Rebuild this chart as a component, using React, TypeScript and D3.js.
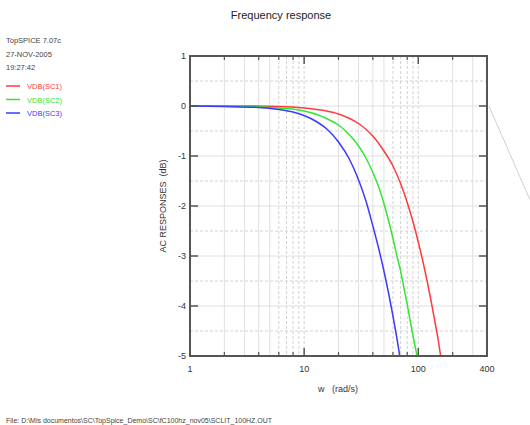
import * as React from "react";
import * as d3 from "d3";

// frequency (rad/s) and dB values
const wSC1 = [1, 3, 6, 10, 15, 20, 25, 30, 40, 50, 60, 70, 80, 90, 100, 110, 120, 130, 140, 150, 158];
const dbSC1 = [0, 0, -0.01, -0.04, -0.09, -0.16, -0.25, -0.35, -0.6, -0.9, -1.2, -1.55, -1.93, -2.32, -2.72, -3.12, -3.52, -3.92, -4.32, -4.7, -5.05];
const wSC2 = [1, 3, 6, 10, 13, 16, 20, 25, 30, 35, 40, 45, 50, 55, 60, 65, 70, 75, 80, 85, 90, 95, 99];
const dbSC2 = [0, -0.01, -0.04, -0.1, -0.17, -0.26, -0.38, -0.58, -0.8, -1.05, -1.33, -1.62, -1.95, -2.3, -2.65, -3.0, -3.3, -3.65, -3.97, -4.3, -4.6, -4.87, -5.08];
const wSC3 = [1, 2, 4, 6, 8, 10, 13, 16, 20, 25, 30, 35, 40, 45, 50, 55, 60, 65, 70];
const dbSC3 = [0, -0.01, -0.03, -0.07, -0.12, -0.19, -0.32, -0.47, -0.72, -1.07, -1.48, -1.92, -2.4, -2.85, -3.3, -3.75, -4.2, -4.65, -5.1];

const seriesNames = ["VDB(SC1)", "VDB(SC2)", "VDB(SC3)"];
const seriesColors = ["#ff3b3b", "#33e633", "#3b3bff"];
const yTicks = [1, 0, -1, -2, -3, -4, -5];
const xTickLabels = [1, 10, 100, 400];
const infoLines = ["TopSPICE 7.07c", "27-NOV-2005", "19:27:42"];
const fileLine = "File: D:\\Mis documentos\\SC\\TopSpice_Demo\\SC\\fC100hz_nov05\\SCLIT_100HZ.OUT";

const font = "'Liberation Sans', Arial, sans-serif";

function drawChart(svgEl: SVGSVGElement) {
  const svg = d3.select(svgEl);
  svg.selectAll("*").remove();

  const left = 190, right = 487, top = 56, bottom = 356;
  const x = d3.scaleLog().domain([1, 400]).range([left, right]);
  const y = d3.scaleLinear().domain([-5, 1]).range([bottom, top]);

  // grid lines
  const g = svg.append("g");
  const minors: { v: number; dashed: boolean }[] = [];
  [1, 10, 100].forEach((dec) => {
    for (let m = 1; m <= 9; m++) {
      const v = dec * m;
      if (v <= 1 || v >= 400) continue;
      minors.push({ v, dashed: m === 1 || m >= 6 });
    }
  });
  g.selectAll("line.vg").data(minors).join("line")
    .attr("x1", (d) => x(d.v)).attr("x2", (d) => x(d.v))
    .attr("y1", top).attr("y2", bottom)
    .attr("stroke", (d) => (d.dashed ? "#d2d2d2" : "#e0e0e0"))
    .attr("stroke-dasharray", (d) => (d.dashed ? "3,2" : null))
    .attr("stroke-width", 1);

  const hLines = d3.range(-9, 2).map((i) => i * 0.5).filter((v) => v > -5 && v < 1);
  g.selectAll("line.hg").data(hLines).join("line")
    .attr("x1", left).attr("x2", right)
    .attr("y1", (d) => y(d)).attr("y2", (d) => y(d))
    .attr("stroke", (d) => (Number.isInteger(d) ? "#e0e0e0" : "#d2d2d2"))
    .attr("stroke-dasharray", (d) => (Number.isInteger(d) ? null : "3,2"));

  // clip
  svg.append("clipPath").attr("id", "plotclip").append("rect")
    .attr("x", left).attr("y", top).attr("width", right - left).attr("height", bottom - top);

  const line = d3.line<[number, number]>()
    .x((d) => x(d[0])).y((d) => y(d[1]))
    .curve(d3.curveMonotoneX);

  const series = [
    d3.zip(wSC1, dbSC1),
    d3.zip(wSC2, dbSC2),
    d3.zip(wSC3, dbSC3),
  ] as [number, number][][];

  svg.append("g").attr("clip-path", "url(#plotclip)")
    .selectAll("path").data(series).join("path")
    .attr("d", (d) => line(d))
    .attr("fill", "none")
    .attr("stroke", (_d, i) => seriesColors[i])
    .attr("stroke-width", 1.5);

  // ticks (inside)
  const tickG = svg.append("g").attr("stroke", "#555");
  const xTicks = minors.filter((d) => [2, 4, 6, 8].includes(Math.round(d.v / Math.pow(10, Math.floor(Math.log10(d.v) + 1e-9))))).map((d) => d.v);
  [top, bottom].forEach((yy) => {
    const dir = yy === top ? 1 : -1;
    tickG.selectAll(null).data(xTicks).join("line")
      .attr("x1", (d) => x(d)).attr("x2", (d) => x(d))
      .attr("y1", yy).attr("y2", yy + dir * 4).attr("stroke-width", 1.2);
    tickG.selectAll(null).data([10, 100]).join("line")
      .attr("x1", (d) => x(d)).attr("x2", (d) => x(d))
      .attr("y1", yy).attr("y2", yy + dir * 8).attr("stroke-width", 1.5);
  });
  [left, right].forEach((xx) => {
    const dir = xx === left ? 1 : -1;
    tickG.selectAll(null).data(yTicks.filter((v) => v > -5 && v < 1)).join("line")
      .attr("x1", xx).attr("x2", xx + dir * 8)
      .attr("y1", (d) => y(d)).attr("y2", (d) => y(d)).attr("stroke-width", 1.5);
  });

  // frame
  svg.append("rect")
    .attr("x", left).attr("y", top).attr("width", right - left).attr("height", bottom - top)
    .attr("fill", "none").attr("stroke", "#555").attr("stroke-width", 2);

  // odd gray leader line at the right
  svg.append("line")
    .attr("x1", right + 2).attr("y1", y(0)).attr("x2", 530).attr("y2", y(0) + 94)
    .attr("stroke", "#d0d0d0").attr("stroke-width", 1);

  // tick labels
  svg.append("g").selectAll("text").data(yTicks).join("text")
    .attr("x", left - 4).attr("y", (d) => y(d) + 3)
    .attr("text-anchor", "end")
    .attr("font-family", font).attr("font-size", 9).attr("fill", "#333")
    .text((d) => String(d));

  svg.append("g").selectAll("text").data(xTickLabels).join("text")
    .attr("x", (d) => x(d)).attr("y", bottom + 16)
    .attr("text-anchor", "middle")
    .attr("font-family", font).attr("font-size", 9).attr("fill", "#333")
    .text((d) => String(d));

  // titles
  svg.append("text").attr("x", 281).attr("y", 19).attr("text-anchor", "middle")
    .attr("font-family", font).attr("font-size", 11).attr("fill", "#222")
    .text("Frequency response");

  svg.append("text").attr("x", 338).attr("y", 392).attr("text-anchor", "middle")
    .attr("font-family", font).attr("font-size", 9).attr("fill", "#333")
    .attr("xml:space", "preserve")
    .text("w   (rad/s)");

  svg.append("text")
    .attr("transform", `translate(166,${(top + bottom) / 2}) rotate(-90)`)
    .attr("text-anchor", "middle")
    .attr("font-family", font).attr("font-size", 9).attr("fill", "#333")
    .attr("xml:space", "preserve")
    .text("AC RESPONSES  (dB)");

  // info text
  svg.append("g").selectAll("text").data(infoLines).join("text")
    .attr("x", 6).attr("y", (_d, i) => 43 + i * 13.5)
    .attr("font-family", font).attr("font-size", 7.5).attr("fill", "#444")
    .text((d) => d);

  // legend
  const leg = svg.append("g").selectAll("g").data(seriesNames).join("g")
    .attr("transform", (_d, i) => `translate(6,${86 + i * 13.5})`);
  leg.append("line").attr("x1", 0).attr("x2", 14).attr("y1", 0).attr("y2", 0)
    .attr("stroke", (_d, i) => seriesColors[i]).attr("stroke-width", 1.5);
  leg.append("text").attr("x", 21).attr("y", 3)
    .attr("font-family", font).attr("font-size", 7.5)
    .attr("fill", (_d, i) => seriesColors[i])
    .text((d) => d);

  svg.append("text").attr("x", 6).attr("y", 423)
    .attr("font-family", font).attr("font-size", 7).attr("fill", "#444")
    .text(fileLine);
}

const App = () => {
  const svgRef = React.useRef<SVGSVGElement>(null);
  React.useEffect(() => {
    if (svgRef.current) drawChart(svgRef.current);
  }, []);
  return (
    <div style={{ position: "absolute", left: 0, top: 0 }}>
      <svg ref={svgRef} width={530} height={425} style={{ display: "block", background: "#fff" }}></svg>
    </div>
  );
};

export default App;
